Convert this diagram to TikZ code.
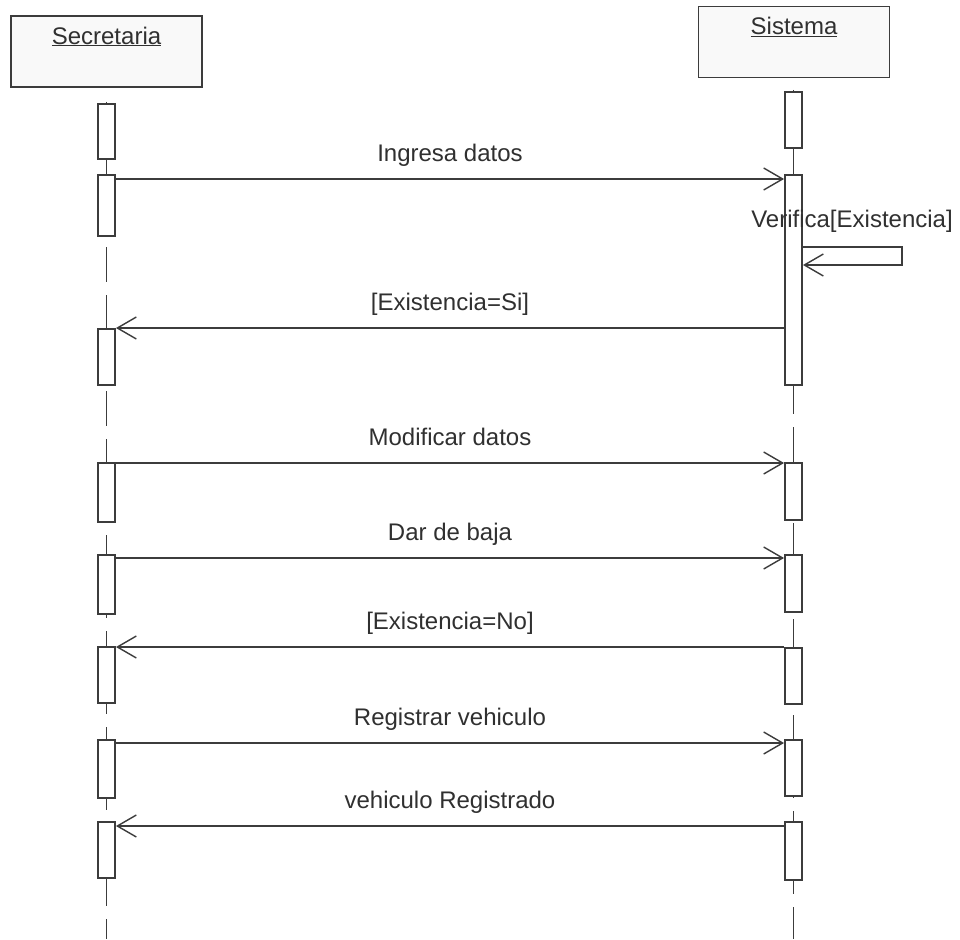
\documentclass[tikz,border=0pt]{standalone}
\usepackage{fontspec}
\setmainfont{Liberation Sans}
\usetikzlibrary{arrows.meta,calc}
\definecolor{ln}{HTML}{3C3C3C}
\definecolor{tx}{HTML}{303030}
\definecolor{actfill}{HTML}{F9F9F9}
\begin{document}
\begin{tikzpicture}[x=1pt,y=-1pt,
  every node/.style={font=\fontsize{24}{28}\selectfont, text=tx},
  actor/.style={draw=ln, line width=1.9pt, fill=actfill, minimum width=191pt, minimum height=71pt, inner sep=0pt},
  act/.style={draw=ln, line width=1.9pt, fill=white, minimum width=17pt, inner sep=0pt},
  life/.style={draw=ln, line width=1.9pt},
  lifedash/.style={life, dash pattern=on 35pt off 13pt},
  msg/.style={draw=ln, line width=1.7pt, -{Straight Barb[length=19pt,width=22pt,line width=1.4pt]}},
  lbl/.style={anchor=base, yshift=18pt, inner sep=0pt}
]
\useasboundingbox[fill=white] (0,0) rectangle (960,939);

% actors
\node[actor] (sec) at (106.5,51.5) {};
\node[anchor=base, inner sep=0pt] (secl) at ($(sec.north)+(0,29)$) {\underline{Secretaria}};
\node[actor] (sis) at (794,42) {};
\node[anchor=base, inner sep=0pt] (sisl) at ($(sis.north)+(0,29)$) {\underline{Sistema}};

% lifelines
\coordinate (sl0) at (106.5,102);
\coordinate (sl1) at (106.5,236);
\coordinate (sl2) at (106.5,247);
\coordinate (sl3) at (106.5,939);
\coordinate (tl0) at (793.5,90);
\coordinate (tl1) at (793.5,379);
\coordinate (tl3) at (793.5,939);
\draw[life] (sl0) -- (sl1);
\draw[lifedash] (sl2) -- (sl3);
\draw[life] (tl0) -- (tl1);
\draw[lifedash] (tl1) -- (tl3);

% activation boxes Secretaria
\node[act, minimum height=55pt] (a1) at (106.5,131.5) {};
\node[act, minimum height=61pt] (a2) at (106.5,205.5) {};
\node[act, minimum height=56pt] (a3) at (106.5,357) {};
\node[act, minimum height=59pt] (a4) at (106.5,492.5) {};
\node[act, minimum height=59pt] (a5) at (106.5,584.5) {};
\node[act, minimum height=56pt] (a6) at (106.5,675) {};
\node[act, minimum height=58pt] (a7) at (106.5,769) {};
\node[act, minimum height=56pt] (a8) at (106.5,850) {};

% activation boxes Sistema
\node[act, minimum height=56pt] (b1) at (793.5,120) {};
\node[act, minimum height=210pt] (b2) at (793.5,280) {};
\node[act, minimum height=57pt] (b3) at (793.5,491.5) {};
\node[act, minimum height=57pt] (b4) at (793.5,583.5) {};
\node[act, minimum height=56pt] (b5) at (793.5,676) {};
\node[act, minimum height=56pt] (b6) at (793.5,768) {};
\node[act, minimum height=58pt] (b7) at (793.5,851) {};

% messages
\draw[msg] (a2.east |- 0,179) -- node[lbl] (m1) {Ingresa datos} (b2.west |- 0,179);

\coordinate (v1) at (902,247);
\coordinate (v2) at (902,265);
\draw[msg] (b2.east |- 0,247) -- (v1) -- (v2) -- (b2.east |- 0,265);
\node[anchor=base, inner sep=0pt] (m2) at (852,227) {Verifica[Existencia]};

\draw[msg] (b2.west |- 0,328) -- node[lbl] (m3) {[Existencia=Si]} (a3.east |- 0,328);
\draw[msg] (a4.east |- 0,463) -- node[lbl] (m4) {Modificar datos} (b3.west |- 0,463);
\draw[msg] (a5.east |- 0,558) -- node[lbl] (m5) {Dar de baja} (b4.west |- 0,558);
\draw[msg] (b5.west |- 0,647) -- node[lbl] (m6) {[Existencia=No]} (a6.east |- 0,647);
\draw[msg] (a7.east |- 0,743) -- node[lbl] (m7) {Registrar vehiculo} (b6.west |- 0,743);
\draw[msg] (b7.west |- 0,826) -- node[lbl] (m8) {vehiculo Registrado} (a8.east |- 0,826);
\end{tikzpicture}
\end{document}
